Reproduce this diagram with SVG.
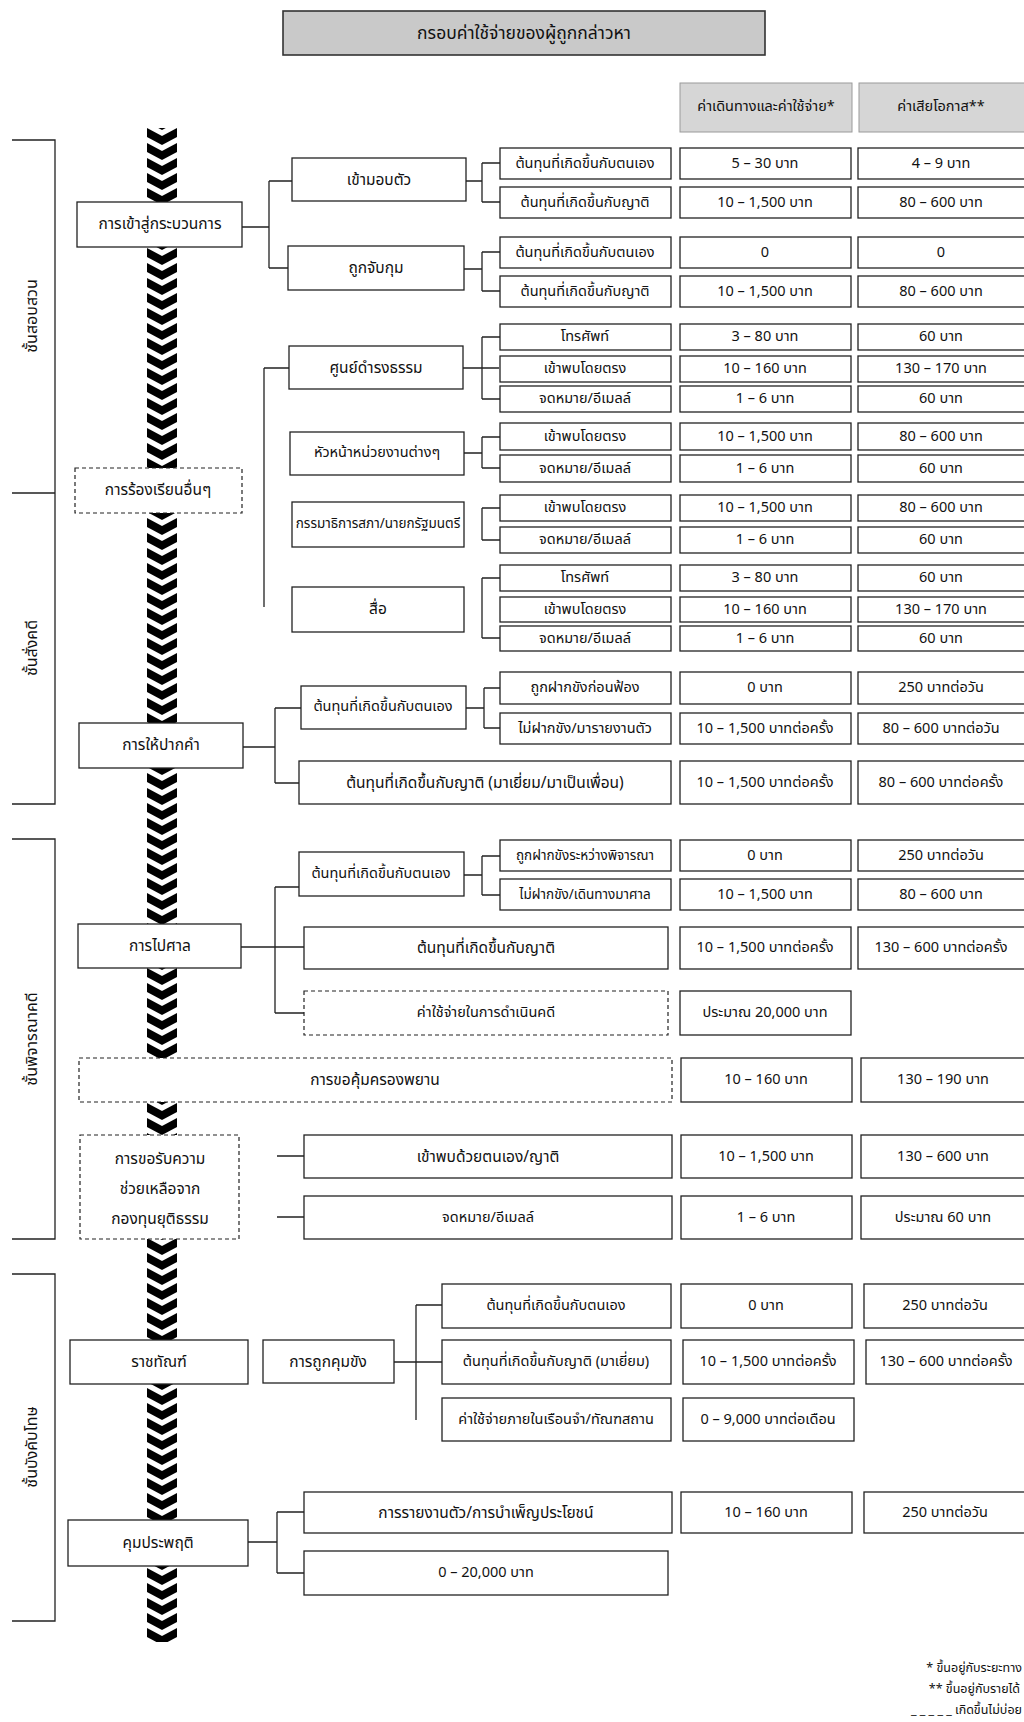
<svg xmlns="http://www.w3.org/2000/svg" width="1024" height="1722" viewBox="0 0 1024 1722">
<style>
text{font-family:"Noto Sans Thai","Noto Sans","DejaVu Sans",sans-serif;font-size:14.5px;fill:#111;text-anchor:middle;dominant-baseline:central}
.b{fill:#fff;stroke:#222;stroke-width:1.3}
.d{fill:#fff;stroke:#222;stroke-width:1.2;stroke-dasharray:4 3}
.h{fill:#d6d6d6;stroke:#9a9a9a;stroke-width:1}
.t{fill:#c9c9c9;stroke:#333;stroke-width:1.6}
.c{fill:none;stroke:#222;stroke-width:1.3}
.s{font-size:13.5px}
.m{font-size:15.5px}
.l{font-size:17.5px}
.g{font-size:16px}
.e{font-size:12.5px;text-anchor:end}
</style>
<defs>
<pattern id="chev" patternUnits="userSpaceOnUse" x="147" y="128" width="30" height="15">
<polygon points="0,0 15,8 30,0 30,9 15,17 0,9" fill="#000"/>
<polygon points="0,-15 15,-7 30,-15 30,-6 15,2 0,-6" fill="#000"/>
</pattern>
</defs>
<rect width="1024" height="1722" fill="#fff"/>

<g id="title"><rect class="t" x="283" y="11" width="482" height="44"/><text class="l" x="524" y="33">กรอบค่าใช้จ่ายของผู้ถูกกล่าวหา</text></g>
<g id="head-cost"><rect class="h" x="680" y="83" width="172" height="49"/><text x="766" y="107">ค่าเดินทางและค่าใช้จ่าย*</text></g>
<g id="head-opp"><rect class="h" x="859" y="83" width="170" height="49"/><text x="941" y="107">ค่าเสียโอกาส**</text></g>

<g id="stages">
<path class="c" d="M12,140H55V804H12M12,493H55M12,839H55V1239H12M12,1274H55V1621H12"/>
<text class="g" transform="translate(32,316) rotate(-90)">ชั้นสอบสวน</text>
<text class="g" transform="translate(32,648) rotate(-90)">ชั้นสั่งคดี</text>
<text class="g" transform="translate(32,1039) rotate(-90)">ชั้นพิจารณาคดี</text>
<text class="g" transform="translate(32,1447) rotate(-90)">ชั้นบังคับโทษ</text>
</g>

<rect id="chevrons" x="147" y="128" width="30" height="1514" fill="url(#chev)"/>

<g id="connectors">
<path class="c" d="M242,227H269M269,181V268M269,181H292M269,268H288"/>
<path class="c" d="M466,181H482M482,163V202M482,163H500M482,202H500"/>
<path class="c" d="M464,269H482M482,252V291M482,252H500M482,291H500"/>
<path class="c" d="M264,368V607M264,368H289"/>
<path class="c" d="M463,368H499M482,337V399M482,337H500M482,399H500"/>
<path class="c" d="M464,453H482M482,437V468M482,437H500M482,468H500"/>
<path class="c" d="M482,508V540M482,508H500M482,540H500"/>
<path class="c" d="M482,578V638M482,578H500M482,638H500"/>
<path class="c" d="M243,747H275M275,708V783M275,708H301M275,783H299"/>
<path class="c" d="M466,708H484M484,688V728M484,688H500M484,728H500"/>
<path class="c" d="M241,947H275M275,887V1013M275,887H299M275,947H304M275,1013H304"/>
<path class="c" d="M464,875H482M482,856V895M482,856H500M482,895H500"/>
<path class="c" d="M277,1156H304M277,1217H304"/>
<path class="c" d="M394,1362H442M416,1305V1420M416,1305H442"/>
<path class="c" d="M248,1542H277M277,1512V1573M277,1512H304M277,1573H304"/>
</g>

<g id="n-entry"><rect class="b" x="77" y="202" width="165" height="45"/><text class="m" x="160" y="224">การเข้าสู่กระบวนการ</text></g>
<g id="n-surrender"><rect class="b" x="292" y="158" width="174" height="43"/><text class="m" x="379" y="180">เข้ามอบตัว</text></g>
<g id="n-arrest"><rect class="b" x="288" y="246" width="176" height="44"/><text class="m" x="376" y="268">ถูกจับกุม</text></g>

<g id="n-complaint"><rect class="d" x="75" y="468" width="167" height="45"/><text class="m" x="158" y="490">การร้องเรียนอื่นๆ</text></g>
<g id="n-damrongtham"><rect class="b" x="289" y="346" width="174" height="43"/><text class="m" x="376" y="368">ศูนย์ดำรงธรรม</text></g>
<g id="n-heads"><rect class="b" x="290" y="432" width="174" height="43"/><text x="377" y="453">หัวหน้าหน่วยงานต่างๆ</text></g>
<g id="n-committee"><rect class="b" x="292" y="502" width="172" height="45"/><text class="s" x="378" y="524">กรรมาธิการสภา/นายกรัฐมนตรี</text></g>
<g id="n-media"><rect class="b" x="292" y="587" width="172" height="45"/><text class="m" x="378" y="609">สื่อ</text></g>

<g id="n-statement"><rect class="b" x="79" y="723" width="164" height="45"/><text class="m" x="161" y="745">การให้ปากคำ</text></g>
<g id="n-st-self"><rect class="b" x="301" y="686" width="165" height="43"/><text x="383" y="707">ต้นทุนที่เกิดขึ้นกับตนเอง</text></g>

<g id="n-court"><rect class="b" x="78" y="924" width="163" height="44"/><text class="m" x="160" y="946">การไปศาล</text></g>
<g id="n-co-self"><rect class="b" x="299" y="852" width="165" height="44"/><text x="381" y="874">ต้นทุนที่เกิดขึ้นกับตนเอง</text></g>

<g id="n-witness"><rect class="d" x="79" y="1058" width="593" height="44"/><text class="m" x="375" y="1080">การขอคุ้มครองพยาน</text></g>
<g id="n-fund"><rect class="d" x="80" y="1135" width="159" height="104"/><text class="m" x="160" y="1159">การขอรับความ</text><text class="m" x="160" y="1189">ช่วยเหลือจาก</text><text class="m" x="160" y="1219">กองทุนยุติธรรม</text></g>

<g id="n-corrections"><rect class="b" x="70" y="1340" width="178" height="44"/><text class="m" x="159" y="1362">ราชทัณฑ์</text></g>
<g id="n-detained"><rect class="b" x="263" y="1340" width="131" height="43"/><text class="m" x="328" y="1362">การถูกคุมขัง</text></g>
<g id="n-probation"><rect class="b" x="68" y="1520" width="180" height="46"/><text class="m" x="158" y="1543">คุมประพฤติ</text></g>

<g id="r1"><rect class="b" x="500" y="148" width="171" height="31"/><text x="585" y="164">ต้นทุนที่เกิดขึ้นกับตนเอง</text><rect class="b" x="680" y="148" width="171" height="31"/><text x="765" y="164">5 – 30 บาท</text><rect class="b" x="858" y="148" width="171" height="31"/><text x="941" y="164">4 – 9 บาท</text></g>
<g id="r2"><rect class="b" x="500" y="187" width="171" height="31"/><text x="585" y="203">ต้นทุนที่เกิดขึ้นกับญาติ</text><rect class="b" x="680" y="187" width="171" height="31"/><text x="765" y="203">10 – 1,500 บาท</text><rect class="b" x="858" y="187" width="171" height="31"/><text x="941" y="203">80 – 600 บาท</text></g>
<g id="r3"><rect class="b" x="500" y="237" width="171" height="31"/><text x="585" y="253">ต้นทุนที่เกิดขึ้นกับตนเอง</text><rect class="b" x="680" y="237" width="171" height="31"/><text x="765" y="253">0</text><rect class="b" x="858" y="237" width="171" height="31"/><text x="941" y="253">0</text></g>
<g id="r4"><rect class="b" x="500" y="276" width="171" height="31"/><text x="585" y="292">ต้นทุนที่เกิดขึ้นกับญาติ</text><rect class="b" x="680" y="276" width="171" height="31"/><text x="765" y="292">10 – 1,500 บาท</text><rect class="b" x="858" y="276" width="171" height="31"/><text x="941" y="292">80 – 600 บาท</text></g>
<g id="r5"><rect class="b" x="500" y="324" width="171" height="26"/><text x="585" y="337">โทรศัพท์</text><rect class="b" x="680" y="324" width="171" height="26"/><text x="765" y="337">3 – 80 บาท</text><rect class="b" x="858" y="324" width="171" height="26"/><text x="941" y="337">60 บาท</text></g>
<g id="r6"><rect class="b" x="500" y="356" width="171" height="26"/><text x="585" y="369">เข้าพบโดยตรง</text><rect class="b" x="680" y="356" width="171" height="26"/><text x="765" y="369">10 – 160 บาท</text><rect class="b" x="858" y="356" width="171" height="26"/><text x="941" y="369">130 – 170 บาท</text></g>
<g id="r7"><rect class="b" x="500" y="386" width="171" height="26"/><text x="585" y="399">จดหมาย/อีเมลล์</text><rect class="b" x="680" y="386" width="171" height="26"/><text x="765" y="399">1 – 6 บาท</text><rect class="b" x="858" y="386" width="171" height="26"/><text x="941" y="399">60 บาท</text></g>
<g id="r8"><rect class="b" x="500" y="423" width="171" height="27"/><text x="585" y="437">เข้าพบโดยตรง</text><rect class="b" x="680" y="423" width="171" height="27"/><text x="765" y="437">10 – 1,500 บาท</text><rect class="b" x="858" y="423" width="171" height="27"/><text x="941" y="437">80 – 600 บาท</text></g>
<g id="r9"><rect class="b" x="500" y="455" width="171" height="27"/><text x="585" y="469">จดหมาย/อีเมลล์</text><rect class="b" x="680" y="455" width="171" height="27"/><text x="765" y="469">1 – 6 บาท</text><rect class="b" x="858" y="455" width="171" height="27"/><text x="941" y="469">60 บาท</text></g>
<g id="r10"><rect class="b" x="500" y="495" width="171" height="26"/><text x="585" y="508">เข้าพบโดยตรง</text><rect class="b" x="680" y="495" width="171" height="26"/><text x="765" y="508">10 – 1,500 บาท</text><rect class="b" x="858" y="495" width="171" height="26"/><text x="941" y="508">80 – 600 บาท</text></g>
<g id="r11"><rect class="b" x="500" y="527" width="171" height="26"/><text x="585" y="540">จดหมาย/อีเมลล์</text><rect class="b" x="680" y="527" width="171" height="26"/><text x="765" y="540">1 – 6 บาท</text><rect class="b" x="858" y="527" width="171" height="26"/><text x="941" y="540">60 บาท</text></g>
<g id="r12"><rect class="b" x="500" y="565" width="171" height="26"/><text x="585" y="578">โทรศัพท์</text><rect class="b" x="680" y="565" width="171" height="26"/><text x="765" y="578">3 – 80 บาท</text><rect class="b" x="858" y="565" width="171" height="26"/><text x="941" y="578">60 บาท</text></g>
<g id="r13"><rect class="b" x="500" y="597" width="171" height="25"/><text x="585" y="610">เข้าพบโดยตรง</text><rect class="b" x="680" y="597" width="171" height="25"/><text x="765" y="610">10 – 160 บาท</text><rect class="b" x="858" y="597" width="171" height="25"/><text x="941" y="610">130 – 170 บาท</text></g>
<g id="r14"><rect class="b" x="500" y="626" width="171" height="25"/><text x="585" y="639">จดหมาย/อีเมลล์</text><rect class="b" x="680" y="626" width="171" height="25"/><text x="765" y="639">1 – 6 บาท</text><rect class="b" x="858" y="626" width="171" height="25"/><text x="941" y="639">60 บาท</text></g>
<g id="r15"><rect class="b" x="500" y="672" width="171" height="32"/><text x="585" y="688">ถูกฝากขังก่อนฟ้อง</text><rect class="b" x="680" y="672" width="171" height="32"/><text x="765" y="688">0 บาท</text><rect class="b" x="858" y="672" width="171" height="32"/><text x="941" y="688">250 บาทต่อวัน</text></g>
<g id="r16"><rect class="b" x="500" y="713" width="171" height="31"/><text x="585" y="729">ไม่ฝากขัง/มารายงานตัว</text><rect class="b" x="680" y="713" width="171" height="31"/><text x="765" y="729">10 – 1,500 บาทต่อครั้ง</text><rect class="b" x="858" y="713" width="171" height="31"/><text x="941" y="729">80 – 600 บาทต่อวัน</text></g>
<g id="r17"><rect class="b" x="299" y="761" width="372" height="43"/><text class="m" x="485" y="783">ต้นทุนที่เกิดขึ้นกับญาติ (มาเยี่ยม/มาเป็นเพื่อน)</text><rect class="b" x="680" y="761" width="171" height="43"/><text x="765" y="783">10 – 1,500 บาทต่อครั้ง</text><rect class="b" x="858" y="761" width="171" height="43"/><text x="941" y="783">80 – 600 บาทต่อครั้ง</text></g>
<g id="r18"><rect class="b" x="500" y="840" width="171" height="31"/><text class="s" x="585" y="856">ถูกฝากขังระหว่างพิจารณา</text><rect class="b" x="680" y="840" width="171" height="31"/><text x="765" y="856">0 บาท</text><rect class="b" x="858" y="840" width="171" height="31"/><text x="941" y="856">250 บาทต่อวัน</text></g>
<g id="r19"><rect class="b" x="500" y="879" width="171" height="31"/><text class="s" x="585" y="895">ไม่ฝากขัง/เดินทางมาศาล</text><rect class="b" x="680" y="879" width="171" height="31"/><text x="765" y="895">10 – 1,500 บาท</text><rect class="b" x="858" y="879" width="171" height="31"/><text x="941" y="895">80 – 600 บาท</text></g>
<g id="r20"><rect class="b" x="304" y="927" width="364" height="42"/><text class="m" x="486" y="948">ต้นทุนที่เกิดขึ้นกับญาติ</text><rect class="b" x="680" y="927" width="171" height="42"/><text x="765" y="948">10 – 1,500 บาทต่อครั้ง</text><rect class="b" x="858" y="927" width="171" height="42"/><text x="941" y="948">130 – 600 บาทต่อครั้ง</text></g>
<g id="r21"><rect class="d" x="304" y="991" width="364" height="44"/><text x="486" y="1013">ค่าใช้จ่ายในการดำเนินคดี</text><rect class="b" x="680" y="991" width="171" height="44"/><text x="765" y="1013">ประมาณ 20,000 บาท</text></g>
<g id="r22"><rect class="b" x="681" y="1058" width="171" height="44"/><text x="766" y="1080">10 – 160 บาท</text><rect class="b" x="861" y="1058" width="171" height="44"/><text x="943" y="1080">130 – 190 บาท</text></g>
<g id="r23"><rect class="b" x="304" y="1135" width="368" height="43"/><text class="m" x="488" y="1157">เข้าพบด้วยตนเอง/ญาติ</text><rect class="b" x="681" y="1135" width="171" height="43"/><text x="766" y="1157">10 – 1,500 บาท</text><rect class="b" x="861" y="1135" width="171" height="43"/><text x="943" y="1157">130 – 600 บาท</text></g>
<g id="r24"><rect class="b" x="304" y="1196" width="368" height="43"/><text x="488" y="1218">จดหมาย/อีเมลล์</text><rect class="b" x="681" y="1196" width="171" height="43"/><text x="766" y="1218">1 – 6 บาท</text><rect class="b" x="861" y="1196" width="171" height="43"/><text x="943" y="1218">ประมาณ 60 บาท</text></g>
<g id="r25"><rect class="b" x="442" y="1284" width="229" height="44"/><text x="556" y="1306">ต้นทุนที่เกิดขึ้นกับตนเอง</text><rect class="b" x="681" y="1284" width="171" height="44"/><text x="766" y="1306">0 บาท</text><rect class="b" x="864" y="1284" width="171" height="44"/><text x="945" y="1306">250 บาทต่อวัน</text></g>
<g id="r26"><rect class="b" x="442" y="1340" width="229" height="44"/><text x="556" y="1362">ต้นทุนที่เกิดขึ้นกับญาติ (มาเยี่ยม)</text><rect class="b" x="683" y="1340" width="171" height="44"/><text x="768" y="1362">10 – 1,500 บาทต่อครั้ง</text><rect class="b" x="866" y="1340" width="171" height="44"/><text x="946" y="1362">130 – 600 บาทต่อครั้ง</text></g>
<g id="r27"><rect class="b" x="442" y="1398" width="229" height="43"/><text x="556" y="1420">ค่าใช้จ่ายภายในเรือนจำ/ทัณฑสถาน</text><rect class="b" x="683" y="1398" width="171" height="43"/><text x="768" y="1420">0 – 9,000 บาทต่อเดือน</text></g>
<g id="r28"><rect class="b" x="304" y="1492" width="368" height="41"/><text class="m" x="486" y="1513">การรายงานตัว/การบำเพ็ญประโยชน์</text><rect class="b" x="681" y="1492" width="171" height="41"/><text x="766" y="1513">10 – 160 บาท</text><rect class="b" x="864" y="1492" width="171" height="41"/><text x="945" y="1513">250 บาทต่อวัน</text></g>
<g id="r29"><rect class="b" x="304" y="1551" width="364" height="44"/><text x="486" y="1573">0 – 20,000 บาท</text></g>

<g id="legend">
<text class="e" x="1022" y="1668">* ขึ้นอยู่กับระยะทาง</text>
<text class="e" x="1020" y="1689">** ขึ้นอยู่กับรายได้</text>
<text class="e" x="1022" y="1710">_ _ _ _ _ เกิดขึ้นไม่บ่อย</text>
</g>
</svg>
